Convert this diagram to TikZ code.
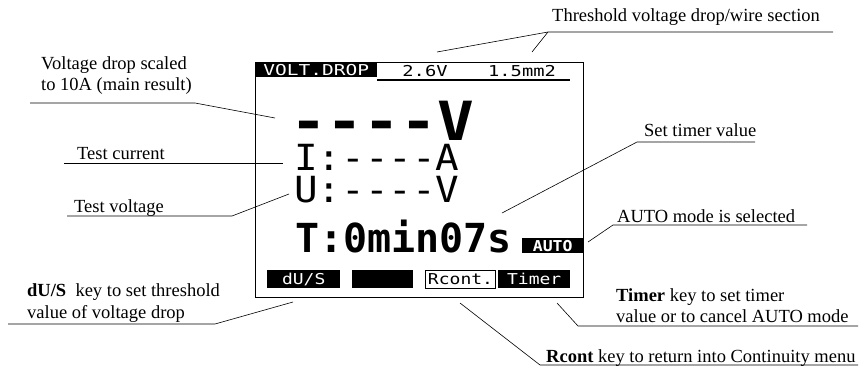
\documentclass[tikz,border=0pt]{standalone}
\usepackage{fontspec}
\setmainfont{Liberation Serif}
\newfontfamily\lcdfont[Ligatures=TeXOff]{DejaVu Sans Mono}
\newcommand\lcdsz[3]{\scalebox{#2}[1]{\lcdfont\fontsize{#1}{#1}\selectfont #3}}
\tikzset{
  lbl/.style={font=\fontsize{18.5}{20}\selectfont, inner sep=0pt, anchor=base west},
  lead/.style={line width=0.6pt},
  lcdtxt/.style={inner sep=0pt, anchor=base west},
  keybox/.style={fill=black, text=white, inner sep=0pt, anchor=north west, minimum height=18pt},
}
\begin{document}
\begin{tikzpicture}[x=1pt,y=-1pt]
\useasboundingbox (0,0) rectangle (867,369);
% ---------- screen ----------
\node[draw, line width=1.4pt, anchor=north west, minimum width=328pt, minimum height=235pt, inner sep=0pt] (screen) at (255,62) {};
\node[fill=black, text=white, anchor=north west, minimum width=122pt, minimum height=15pt, inner sep=0pt] (hdr) at (255,62) {\lcdsz{15}{1.3}{VOLT.DROP}};
\node[lcdtxt, anchor=base] (thv) at (425,76) {\lcdsz{15}{1.25}{2.6V}};
\node[lcdtxt, anchor=base] (ths) at (522,76) {\lcdsz{15}{1.25}{1.5mm2}};
\coordinate (hl1) at (377,80);
\coordinate (hl2) at (570,80);
\draw[line width=1.2pt] (hl1) -- (hl2);
\node[lcdtxt] (res) at (290,140) {\lcdsz{54}{1.13}{\bfseries ----V}};
\node[lcdtxt] (cur) at (294,170) {\lcdsz{36}{1.09}{I:----A}};
\node[lcdtxt] (volt) at (294,202) {\lcdsz{36}{1.09}{U:----V}};
\node[lcdtxt] (tim) at (295,252) {\lcdsz{40}{1}{\bfseries T:0min07s}};
\node[fill=black, text=white, anchor=north west, minimum width=61pt, minimum height=15pt, inner sep=0pt] (auto) at (522,238) {\lcdsz{15}{1.1}{\bfseries AUTO}};
\node[keybox, minimum width=73pt] (kdu) at (267,270) {\lcdsz{15}{1.2}{dU/S}};
\node[keybox, minimum width=61pt] (kbl) at (352,270) {};
\node[keybox, fill=white, text=black, draw=black, line width=1pt, minimum width=70pt] (krc) at (425,270) {\lcdsz{15}{1.2}{Rcont.}};
\node[keybox, minimum width=72pt] (ktm) at (498,270) {\lcdsz{15}{1.2}{Timer}};
% ---------- labels ----------
\node[lbl] (thr) at (552,22) {Threshold voltage drop/wire section};
\node[lbl] (vd1) at (41,70) {Voltage drop scaled};
\node[lbl] (vd2) at (41,90) {to 10A (main result)};
\node[lbl] (tc) at (77,159) {Test current};
\node[lbl] (tv) at (74,212) {Test voltage};
\node[lbl] (du1) at (27,296) {\textbf{dU/S} \ key to set threshold};
\node[lbl] (du2) at (27,318) {value of voltage drop};
\node[lbl] (st) at (644,136) {Set timer value};
\node[lbl] (am) at (617,222) {AUTO mode is selected};
\node[lbl] (tm1) at (616,301) {\textbf{Timer} key to set timer};
\node[lbl] (tm2) at (616,322) {value or to cancel AUTO mode};
\node[lbl] (rc) at (546,362) {\textbf{Rcont} key to return into Continuity menu};
% ---------- leader coordinates ----------
\coordinate (thrL) at (548,32); \coordinate (thrR) at (833,32);
\coordinate (thrP1) at (437,52); \coordinate (thrP2) at (532,52);
\coordinate (vdL) at (30,103); \coordinate (vdK) at (195,103); \coordinate (vdP) at (275,118);
\coordinate (tcL) at (64,163); \coordinate (tcP) at (283,163);
\coordinate (tvL) at (67,216); \coordinate (tvK) at (232,216); \coordinate (tvP) at (289,194);
\coordinate (duL) at (8,324); \coordinate (duK) at (215,324); \coordinate (duP) at (293,302);
\coordinate (stK) at (637,142); \coordinate (stR) at (755,142); \coordinate (stP) at (502,213);
\coordinate (amK) at (613,225); \coordinate (amR) at (807,225); \coordinate (amP) at (588,242);
\coordinate (tmK) at (578,326); \coordinate (tmR) at (858,326); \coordinate (tmP) at (557,303);
\coordinate (rcK) at (540,365); \coordinate (rcR) at (858,365); \coordinate (rcP) at (460,303);
% ---------- leaders ----------
\draw[lead] (thrR) -- (thrL) -- (thrP1);
\draw[lead] (thrL) -- (thrP2);
\draw[lead] (vdL) -- (vdK) -- (vdP);
\draw[lead] (tcL) -- (tcP);
\draw[lead] (tvL) -- (tvK) -- (tvP);
\draw[lead] (duL) -- (duK) -- (duP);
\draw[lead] (stR) -- (stK) -- (stP);
\draw[lead] (amR) -- (amK) -- (amP);
\draw[lead] (tmR) -- (tmK) -- (tmP);
\draw[lead] (rcR) -- (rcK) -- (rcP);
\end{tikzpicture}
\end{document}
